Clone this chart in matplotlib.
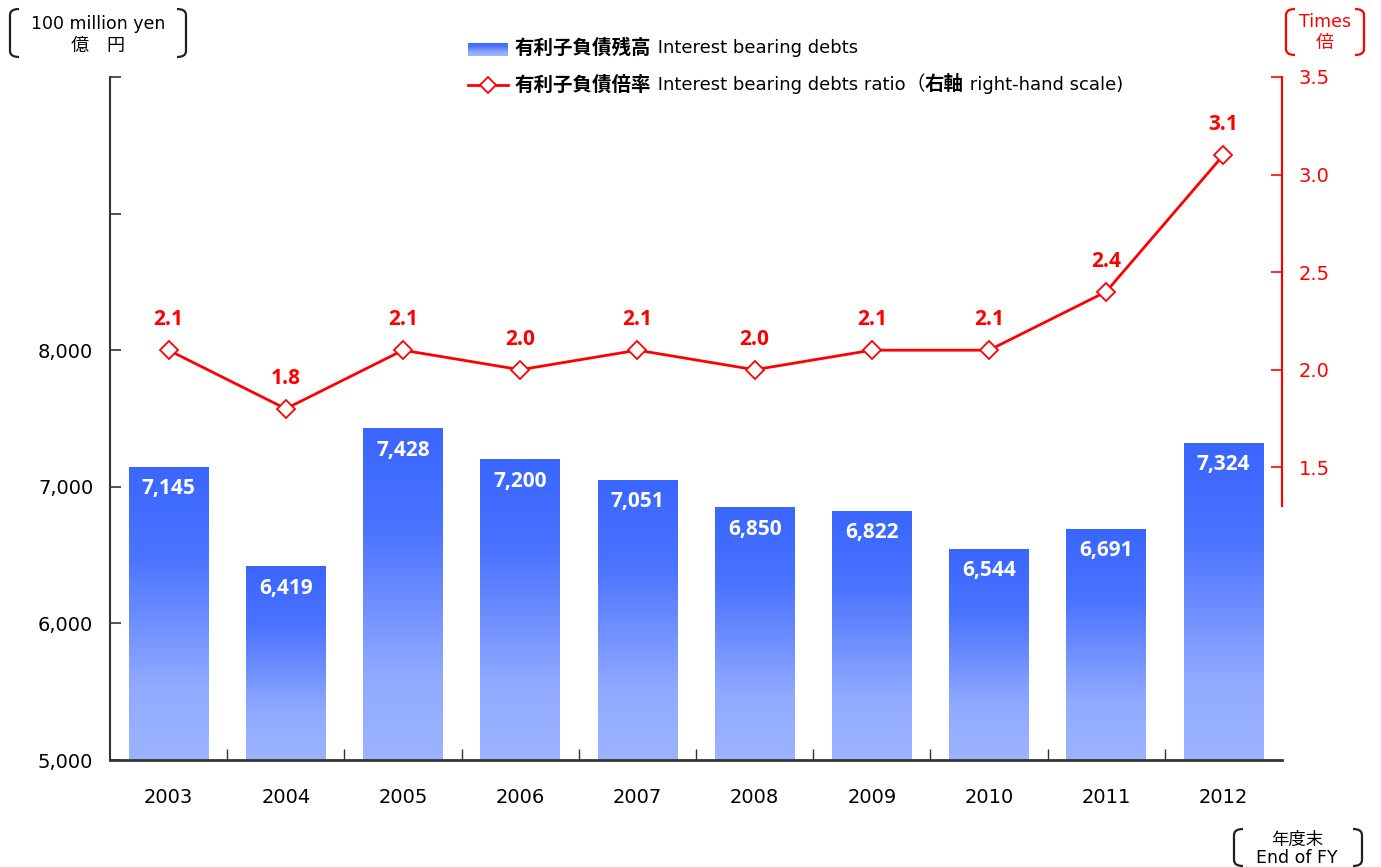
import numpy as np
import matplotlib
matplotlib.use("Agg")
import matplotlib.pyplot as plt
from matplotlib.colors import LinearSegmentedColormap
from matplotlib.patches import PathPatch
from matplotlib.path import Path

plt.rcParams['font.family'] = ['DejaVu Sans', 'Noto Sans CJK JP']
CJK = ['Noto Sans CJK JP', 'DejaVu Sans']
LAT = ['DejaVu Sans', 'Noto Sans CJK JP']
NUM = ['Open Sans', 'DejaVu Sans']

# Data
years = ['2003', '2004', '2005', '2006', '2007', '2008', '2009', '2010', '2011', '2012']
debts = [7145, 6419, 7428, 7200, 7051, 6850, 6822, 6544, 6691, 7324]
ratio = [2.1, 1.8, 2.1, 2.0, 2.1, 2.0, 2.1, 2.1, 2.4, 3.1]

RED = '#ff0000'
fig = plt.figure(figsize=(13.81, 8.67), dpi=100)
ax = fig.add_axes([110 / 1381, 1 - 760 / 867, 1172 / 1381, 683 / 867])

x = np.arange(len(years))
bar_w = 0.68

# gradient bars
cmap = LinearSegmentedColormap.from_list(
    'blues', [(0.0, '#9cb3ff'), (0.25, '#91aaff'), (0.7, '#4a73ff'), (1.0, '#3a66ff')])
grad = np.linspace(0, 1, 256).reshape(-1, 1)
for xi, v in zip(x, debts):
    bars = ax.bar(xi, v - 5000, bottom=5000, width=bar_w, color='none', linewidth=0)
    im = ax.imshow(grad, cmap=cmap, origin='lower', aspect='auto',
                   extent=[xi - bar_w / 2, xi + bar_w / 2, 5000, v], zorder=2)
    im.set_clip_path(bars[0])
    ax.text(xi, v - 160, f'{v:,}', ha='center', va='center', color='white',
            fontsize=15, fontweight='bold', family=NUM, zorder=3)
ax.set_xlim(-0.5, len(years) - 0.5)
ax.set_ylim(5000, 10000)

# left axis
ax.set_yticks([5000, 6000, 7000, 8000, 9000, 10000])
ax.set_yticklabels(['5,000', '6,000', '7,000', '8,000', '', ''], fontsize=14)
ax.tick_params(axis='y', direction='in', length=8, width=1.2, color='#333333', pad=12)
ax.set_xticks(x)
ax.set_xticklabels(years, fontsize=14)
ax.tick_params(axis='x', length=0, pad=20)
ax.set_xticks(np.arange(0.5, len(years) - 0.5, 1), minor=True)
ax.tick_params(axis='x', which='minor', direction='in', length=8, width=1, color='#333333')
for s in ['top', 'right']:
    ax.spines[s].set_visible(False)
ax.spines['left'].set_color('#333333')
ax.spines['left'].set_linewidth(1.5)
ax.spines['bottom'].set_color('#333333')
ax.spines['bottom'].set_linewidth(2)
ax.spines['bottom'].set_zorder(4)

# right axis
ax2 = ax.twinx()
ax2.set_ylim(0, 3.5)
ax2.plot(x, ratio, color=RED, linewidth=2, marker='D', markersize=9,
         markerfacecolor='white', markeredgecolor=RED, markeredgewidth=1.3, zorder=5)
for xi, r in zip(x, ratio):
    ax2.annotate(f'{r:.1f}', (xi, r), xytext=(0, 22), textcoords='offset points',
                 ha='center', va='center', color=RED, fontsize=15, fontweight='bold',
                 family=NUM)
ax2.set_yticks([1.5, 2.0, 2.5, 3.0, 3.5])
ax2.set_yticklabels(['1.5', '2.0', '2.5', '3.0', '3.5'], fontsize=14, color=RED)
ax2.tick_params(axis='y', direction='in', length=8, width=1.2, color=RED, pad=12)
for s in ['top', 'left', 'bottom']:
    ax2.spines[s].set_visible(False)
ax2.spines['right'].set_color(RED)
ax2.spines['right'].set_linewidth(1.5)
ax2.spines['right'].set_bounds(1.3, 3.5)


def bracket(x0, y0, y1, side, color, w=9):
    # pixel coords (top-left origin) -> figure coords
    W, H = 1381, 867
    if side == 'left':
        pts = [(x0 + w, y0), (x0, y0), (x0, y0 + 6), (x0, y1 - 6), (x0, y1), (x0 + w, y1)]
    else:
        pts = [(x0 - w, y0), (x0, y0), (x0, y0 + 6), (x0, y1 - 6), (x0, y1), (x0 - w, y1)]
    verts = [(px / W, 1 - py / H) for px, py in pts]
    codes = [Path.MOVETO, Path.CURVE3, Path.CURVE3, Path.LINETO, Path.CURVE3, Path.CURVE3]
    fig.add_artist(PathPatch(Path(verts, codes), transform=fig.transFigure,
                             fill=False, edgecolor=color, linewidth=1.6))


def ftext(px, py, s, **kw):
    return fig.text(px / 1381, 1 - py / 867, s, **kw)


# unit labels
bracket(10, 9, 57, 'left', '#222222')
bracket(186, 9, 57, 'right', '#222222')
ftext(98, 24, '100 million yen', ha='center', va='center', fontsize=12.5)
ftext(98, 46, '億　円', ha='center', va='center', fontsize=13, family=CJK)

bracket(1286, 9, 55, 'left', RED)
bracket(1364, 9, 55, 'right', RED)
ftext(1325, 22, 'Times', ha='center', va='center', fontsize=12.5, color=RED)
ftext(1325, 43, '倍', ha='center', va='center', fontsize=13, color=RED, family=CJK)

bracket(1234, 829, 866, 'left', '#222222')
bracket(1362, 829, 866, 'right', '#222222')
ftext(1297, 840, '年度末', ha='center', va='center', fontsize=12.5, family=CJK)
ftext(1297, 858, 'End of FY', ha='center', va='center', fontsize=12.5)

# legend (built by hand to mix bold and regular text)
renderer = fig.canvas.get_renderer()


def chain(px, py, pieces):
    for s, bold, fam in pieces:
        t = ftext(px, py, s, ha='left', va='center', fontsize=14 if fam is CJK else 13,
                  fontweight='bold' if bold else 'normal', family=fam)
        bb = t.get_window_extent(renderer)
        px += bb.width


lg_grad = np.linspace(0, 1, 32).reshape(-1, 1)
lax = fig.add_axes([468 / 1381, 1 - 56 / 867, 40 / 1381, 13 / 867])
lax.imshow(lg_grad, cmap=cmap, origin='lower', aspect='auto')
lax.axis('off')
chain(515, 48, [('有利子負債残高', True, CJK), (' Interest bearing debts', False, LAT)])

fig.add_artist(plt.Line2D([468 / 1381, 508 / 1381], [1 - 85 / 867] * 2,
                          color=RED, linewidth=2, transform=fig.transFigure))
fig.add_artist(plt.Line2D([488 / 1381], [1 - 85 / 867], marker='D', markersize=8,
                          markerfacecolor='white', markeredgecolor=RED,
                          markeredgewidth=1.3, transform=fig.transFigure))
chain(515, 85, [('有利子負債倍率', True, CJK), (' Interest bearing debts ratio', False, LAT),
                ('（', False, CJK), ('右軸', True, CJK),
                (' right-hand scale)', False, LAT)])

fig.savefig('out.png', dpi=100)
